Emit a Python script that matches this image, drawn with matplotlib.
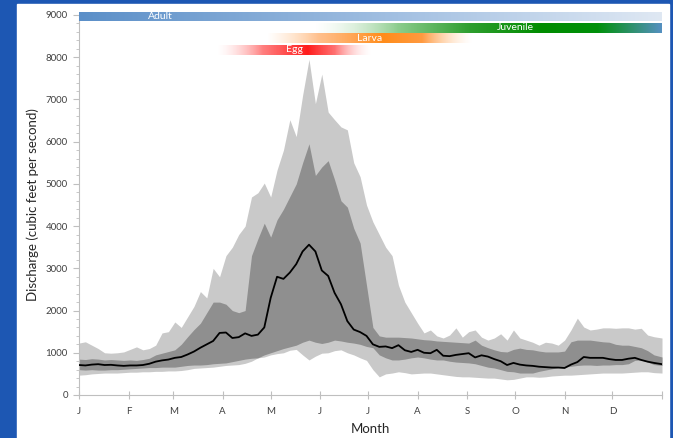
"""Daily discharge envelope by month with fish life-stage timing bars."""

import matplotlib

matplotlib.use("Agg")
import matplotlib.pyplot as plt
import numpy as np
from matplotlib.patches import Rectangle

plt.rcParams["font.family"] = ["Lato", "DejaVu Sans"]

# Day-of-year sample points (4-day steps)
DAYS = [
    0, 4, 8, 12, 16, 20, 24, 28, 32, 36, 40, 44, 48, 52, 56, 60, 64, 68, 72, 76,
    80, 84, 88, 92, 96, 100, 104, 108, 112, 116, 120, 124, 128, 132, 136, 140,
    144, 148, 152, 156, 160, 164, 168, 172, 176, 180, 184, 188, 192, 196, 200,
    204, 208, 212, 216, 220, 224, 228, 232, 236, 240, 244, 248, 252, 256, 260,
    264, 268, 272, 276, 280, 284, 288, 292, 296, 300, 304, 308, 312, 316, 320,
    324, 328, 332, 336, 340, 344, 348, 352, 356, 360, 365,
]

# Outer envelope (light grey)
OUTER_HIGH = [
    1230, 1260, 1180, 1100, 1000, 990, 1000, 1020, 1080, 1140, 1070, 1100, 1180,
    1470, 1500, 1730, 1600, 1850, 2100, 2450, 2300, 3000, 2800, 3300, 3500, 3800,
    4000, 4690, 4790, 5020, 4690, 5330, 5800, 6520, 6120, 7100, 7950, 6900, 7600,
    6700, 6520, 6350, 6280, 5500, 5170, 4500, 4100, 3800, 3500, 3300, 2600, 2200,
    1950, 1700, 1470, 1540, 1400, 1350, 1420, 1590, 1370, 1500, 1540, 1370, 1300,
    1350, 1450, 1300, 1540, 1350, 1300, 1250, 1180, 1250, 1230, 1180, 1300, 1540,
    1820, 1610, 1540, 1560, 1590, 1590, 1580, 1590, 1590, 1560, 1580, 1420, 1380,
    1350,
]
OUTER_LOW = [
    470, 480, 500, 510, 520, 520, 520, 530, 540, 540, 550, 550, 560, 560, 570,
    570, 580, 600, 630, 640, 650, 660, 680, 700, 710, 720, 750, 800, 880, 900,
    950, 980, 1000, 1060, 1080, 950, 830, 920, 990, 1000, 1050, 1070, 1000, 950,
    880, 820, 600, 430, 500, 520, 550, 530, 500, 510, 520, 520, 500, 480, 460,
    440, 430, 430, 420, 410, 400, 400, 380, 360, 370, 400, 430, 430, 420, 430,
    450, 460, 470, 470, 480, 490, 500, 510, 520, 520, 520, 520, 530, 540, 550,
    550, 530, 520,
]

# Inner envelope (dark grey)
INNER_HIGH = [
    850, 840, 860, 850, 830, 840, 830, 820, 830, 820, 840, 870, 950, 990, 1030,
    1070, 1200, 1380, 1550, 1700, 1950, 2200, 2200, 2150, 2000, 1950, 2000, 3300,
    3700, 4070, 3740, 4150, 4400, 4700, 5000, 5500, 5950, 5200, 5400, 5550, 5100,
    4600, 4450, 3950, 3600, 2600, 1600, 1400, 1370, 1370, 1370, 1360, 1350, 1330,
    1310, 1300, 1280, 1270, 1260, 1250, 1240, 1230, 1300, 1180, 1120, 1070, 1030,
    1020, 1080, 1110, 1080, 1070, 1040, 1020, 1020, 1020, 1040, 1260, 1300, 1300,
    1300, 1280, 1260, 1250, 1200, 1180, 1180, 1150, 1120, 1050, 950, 900,
]
INNER_LOW = [
    600, 590, 600, 590, 590, 600, 600, 610, 620, 630, 640, 650, 650, 660, 660,
    660, 680, 700, 710, 710, 720, 740, 750, 760, 790, 820, 850, 870, 880, 950,
    1000, 1050, 1100, 1140, 1180, 1250, 1300, 1250, 1220, 1250, 1300, 1280, 1250,
    1230, 1200, 1150, 1120, 950, 880, 830, 830, 850, 880, 900, 880, 850, 830, 830,
    800, 780, 770, 760, 740, 700, 660, 640, 600, 560, 550, 520, 520, 520, 560,
    590, 620, 650, 660, 680, 700, 710, 710, 700, 710, 710, 720, 720, 740, 820,
    830, 780, 720, 700,
]

# Median daily discharge
MEDIAN = [
    710, 700, 720, 730, 710, 715, 700, 690, 700, 700, 710, 740, 790, 820, 840,
    880, 900, 960, 1030, 1120, 1200, 1280, 1470, 1480, 1350, 1370, 1460, 1400,
    1430, 1600, 2300, 2800, 2750, 2900, 3100, 3400, 3560, 3400, 2950, 2820, 2420,
    2150, 1750, 1550, 1490, 1400, 1200, 1140, 1150, 1110, 1180, 1060, 1020, 1070,
    1000, 990, 1070, 930, 920, 950, 970, 990, 890, 940, 910, 850, 800, 710, 760,
    720, 700, 690, 670, 660, 650, 650, 640, 720, 780, 900, 880, 880, 880, 850,
    830, 830, 860, 880, 830, 790, 760, 730,
]

MONTH_STARTS = [0, 31, 59, 90, 120, 151, 181, 212, 243, 273, 304, 334, 365]
MONTH_LABELS = ["J", "F", "M", "A", "M", "J", "J", "A", "S", "O", "N", "D", ""]

# Life stage bars: name, (y bottom, y top), label day, colour stops (day, colour, alpha)
STAGES = [
    ("Adult", (8860, 9060), 51,
     [(0, "#5b8fc8", 1.0), (200, "#a3c0e2", 1.0), (365, "#dfe8f3", 1.0)]),
    ("Juvenile", (8585, 8815), 273,
     [(148, "#d8eed8", 0.0), (200, "#8ccc8c", 1.0), (245, "#2e9e2e", 1.0),
      (290, "#008c00", 1.0), (325, "#00900a", 1.0), (365, "#5590c0", 1.0)]),
    ("Larva", (8335, 8555), 182,
     [(118, "#ffd0a0", 0.0), (150, "#ffb070", 0.8), (190, "#ff8c1a", 1.0),
      (215, "#ff9a40", 1.0), (246, "#ffe0c0", 0.0)]),
    ("Egg", (8060, 8290), 135,
     [(87, "#ffd0d0", 0.0), (115, "#ff7070", 0.9), (143, "#ff1a1a", 1.0),
      (160, "#ff6060", 0.9), (183, "#ffe0e0", 0.0)]),
]


def gradient_image(stops, n=400):
    pos = np.linspace(0, 365, n)
    days = [s[0] for s in stops]
    rgb = np.array([matplotlib.colors.to_rgb(s[1]) for s in stops])
    alpha = [s[2] for s in stops]
    img = np.zeros((1, n, 4))
    for k in range(3):
        img[0, :, k] = np.interp(pos, days, rgb[:, k])
    a = np.interp(pos, days, alpha, left=0, right=0)
    a[(pos < days[0]) | (pos > days[-1])] = 0
    img[0, :, 3] = a
    return img


def main() -> None:
    fig = plt.figure(figsize=(6.73, 4.38), dpi=100)
    fig.patch.set_facecolor("#1d57b3")
    fig.add_artist(Rectangle((17 / 673, 0), 652 / 673, 434 / 438,
                             transform=fig.transFigure, color="white", zorder=0))

    ax = fig.add_axes([79 / 673, 1 - 395 / 438, 583 / 673, 380 / 438])
    ax.set_facecolor("white")

    ax.fill_between(DAYS, OUTER_LOW, OUTER_HIGH, color="#c9c9c9", lw=0, zorder=1)
    ax.fill_between(DAYS, INNER_LOW, INNER_HIGH, color="#8f8f8f", lw=0, zorder=2)
    ax.plot(DAYS, MEDIAN, color="black", lw=1.3, zorder=3)

    for name, (y0, y1), label_day, stops in STAGES:
        im = ax.imshow(gradient_image(stops), extent=[0, 365, y0, y1],
                       aspect="auto", interpolation="bilinear", zorder=4)
        im.set_clip_on(False)
        ax.text(label_day, (y0 + y1) / 2, name, color="white", fontsize=7.5,
                ha="center", va="center", zorder=5, clip_on=False)

    ax.set_xlim(0, 365)
    ax.set_ylim(0, 9000)

    ax.set_xticks(MONTH_STARTS)
    ax.set_xticklabels(MONTH_LABELS)
    ax.set_yticks(range(0, 9001, 1000))
    ax.set_yticks(range(0, 9001, 200), minor=True)

    for side in ("top", "right"):
        ax.spines[side].set_visible(False)
    for side in ("left", "bottom"):
        ax.spines[side].set_color("#bfbfbf")
        ax.spines[side].set_linewidth(0.8)

    ax.tick_params(axis="x", direction="inout", length=6, width=0.8,
                   color="#bfbfbf", labelsize=7, labelcolor="#404040", pad=6)
    ax.tick_params(axis="y", which="major", direction="out", length=4, width=0.8,
                   color="#bfbfbf", labelsize=7, labelcolor="#404040", pad=4)
    ax.tick_params(axis="y", which="minor", direction="out", length=2, width=0.6,
                   color="#bfbfbf")

    ax.set_xlabel("Month", fontsize=9.5, color="#262626", labelpad=5)
    ax.set_ylabel("Discharge (cubic feet per second)", fontsize=9.5,
                  color="#262626", labelpad=5)

    fig.savefig("out.png", dpi=100, facecolor=fig.get_facecolor())
    plt.close(fig)


if __name__ == "__main__":
    main()
